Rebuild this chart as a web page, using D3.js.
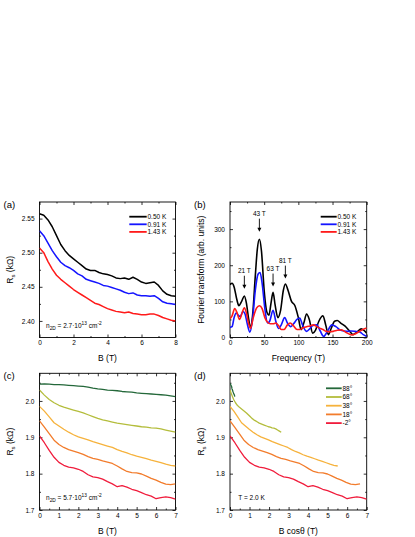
<!DOCTYPE html>
<html>
<head>
<meta charset="utf-8">
<script src="https://cdn.jsdelivr.net/npm/d3@7"></script>
<style>
  body { margin: 0; background: #fff; }
  svg { display: block; font-family: "Liberation Sans", Arial, sans-serif; }
</style>
</head>
<body>
<svg id="fig" width="415" height="537"></svg>
<script>
// ---- panel (a): Rs vs B at three temperatures ----
const tempLabels = ['0.50 K', '0.91 K', '1.43 K'];
const tempColors = ['#000000', '#1414ff', '#ff1a1a'];
const bA = d3.range(0, 8.001, 0.25); // tick grid of the traces, 0.25 T
const rs050 = [2.557, 2.555, 2.548, 2.538, 2.525, 2.512, 2.503, 2.496, 2.491, 2.486, 2.481, 2.476, 2.474, 2.474, 2.471, 2.469, 2.468,
  2.466, 2.463, 2.462, 2.463, 2.461, 2.464, 2.461, 2.457, 2.455, 2.456, 2.457, 2.452, 2.444, 2.439, 2.437, 2.436];
const rs091 = [2.532, 2.525, 2.514, 2.503, 2.494, 2.486, 2.481, 2.478, 2.474, 2.469, 2.466, 2.461, 2.459, 2.457, 2.455, 2.452, 2.451,
  2.449, 2.447, 2.445, 2.442, 2.440, 2.441, 2.438, 2.437, 2.437, 2.436, 2.437, 2.433, 2.428, 2.426, 2.425, 2.424];
const rs143 = [2.507, 2.500, 2.487, 2.476, 2.467, 2.461, 2.456, 2.451, 2.446, 2.442, 2.438, 2.434, 2.430, 2.426, 2.424, 2.421, 2.418,
  2.416, 2.414, 2.413, 2.412, 2.413, 2.411, 2.410, 2.409, 2.409, 2.410, 2.410, 2.408, 2.405, 2.403, 2.401, 2.400];

// ---- panel (b): Fourier transform ----
const freq050 = [0, 3, 6, 10, 13, 17, 21, 24, 27, 30, 33, 37, 40, 43, 46, 50, 54, 57, 60, 63, 66, 70, 74, 78, 81, 85, 90, 95, 100, 104,
  108, 112, 116, 121, 125, 130, 136, 140, 144, 148, 153, 157, 162, 168, 174, 180, 186, 192, 196, 200];
const ft050 = [146, 150, 140, 105, 88, 100, 115, 95, 55, 28, 60, 170, 245, 272, 240, 130, 70, 62, 95, 125, 90, 55, 75, 130, 148, 130,
  100, 88, 55, 22, 40, 65, 50, 12, 20, 45, 60, 35, 8, 25, 45, 47, 40, 32, 20, 8, 15, 24, 20, 12];
const freq091 = [0, 3, 6, 9, 12, 15, 19, 22, 25, 29, 33, 37, 41, 44, 47, 51, 55, 58, 63, 67, 71, 75, 80, 84, 89, 93, 98, 102, 106, 112,
  117, 121, 127, 132, 137, 142, 149, 155, 162, 171, 177, 183, 190, 195, 200];
const ft091 = [28, 30, 55, 68, 62, 58, 72, 65, 40, 15, 50, 130, 175, 180, 150, 80, 40, 45, 75, 45, 25, 35, 55, 40, 30, 38, 50, 54, 35,
  17, 25, 33, 35, 18, 3, 15, 35, 30, 20, 17, 18, 17, 15, 8, 3];
const freq143 = [0, 3, 7, 10, 14, 18, 21, 24, 27, 30, 34, 39, 43, 47, 51, 55, 59, 63, 67, 71, 75, 79, 84, 88, 93, 98, 102, 107, 112,
  117, 122, 127, 131, 136, 141, 146, 151, 157, 163, 170, 178, 185, 193, 200];
const ft143 = [52, 60, 80, 70, 50, 70, 82, 68, 40, 25, 55, 82, 88, 80, 55, 42, 38, 38, 40, 33, 22, 22, 35, 40, 32, 22, 22, 27, 30,
  32, 35, 30, 26, 22, 17, 16, 17, 20, 21, 14, 7, 12, 21, 26];
const peakFreqs = [21, 43, 63, 81];
const peakTips = [135, 293, 141, 163];

// ---- panels (c), (d): Rs vs B at several tilt angles, T = 2.0 K ----
const angles = [88, 68, 38, 18, -2];
const angleColors = ['#24683a', '#b4bd3c', '#f6b23c', '#f27c2c', '#f01c3c'];
const bC = d3.range(0, 7.001, 0.25);
const rs88 = [2.046, 2.047, 2.046, 2.045, 2.045, 2.044, 2.043, 2.042, 2.041, 2.040, 2.038, 2.035, 2.033, 2.032, 2.030, 2.029, 2.028,
  2.026, 2.025, 2.024, 2.022, 2.021, 2.020, 2.019, 2.018, 2.017, 2.016, 2.014, 2.012];
const rs68 = [2.030, 2.016, 2.004, 1.995, 1.988, 1.983, 1.979, 1.975, 1.971, 1.967, 1.962, 1.957, 1.952, 1.948, 1.945, 1.942, 1.939,
  1.937, 1.935, 1.933, 1.931, 1.929, 1.928, 1.926, 1.925, 1.923, 1.920, 1.917, 1.914];
const rs38 = [1.985, 1.972, 1.956, 1.940, 1.931, 1.922, 1.914, 1.907, 1.901, 1.897, 1.893, 1.888, 1.884, 1.880, 1.876, 1.872, 1.866,
  1.861, 1.857, 1.852, 1.848, 1.845, 1.841, 1.837, 1.834, 1.830, 1.826, 1.823, 1.821];
const rs18 = [1.945, 1.928, 1.910, 1.892, 1.880, 1.872, 1.866, 1.862, 1.858, 1.853, 1.847, 1.842, 1.839, 1.835, 1.832, 1.828, 1.821,
  1.813, 1.806, 1.803, 1.802, 1.799, 1.793, 1.787, 1.782, 1.776, 1.771, 1.770, 1.772];
const rsm2 = [1.904, 1.885, 1.864, 1.845, 1.831, 1.823, 1.818, 1.816, 1.812, 1.806, 1.797, 1.791, 1.789, 1.785, 1.778, 1.772, 1.764,
  1.767, 1.763, 1.757, 1.753, 1.748, 1.742, 1.738, 1.731, 1.734, 1.736, 1.734, 1.730];

const svg = d3.select('#fig');
const FONT = '"Liberation Sans", Arial, sans-serif';

function panel(o) {
  const g = svg.append('g');
  const x = d3.scaleLinear(o.xDomain, [o.left, o.right]);
  const y = d3.scaleLinear(o.yDomain, [o.bottom, o.top]);

  const ax = (axis, pos, horiz) => g.append('g')
    .attr('transform', horiz ? `translate(0,${pos})` : `translate(${pos},0)`)
    .call(axis);

  ax(d3.axisBottom(x).tickValues(o.xMajor).tickSize(-3).tickPadding(3).tickFormat(o.xFmt), o.bottom, true);
  ax(d3.axisBottom(x).tickValues(o.xMinor).tickSize(-1.5).tickFormat(''), o.bottom, true);
  ax(d3.axisTop(x).tickValues(o.xMajor).tickSize(-3).tickFormat(''), o.top, true);
  ax(d3.axisTop(x).tickValues(o.xMinor).tickSize(-1.5).tickFormat(''), o.top, true);
  ax(d3.axisLeft(y).tickValues(o.yMajor).tickSize(-3).tickPadding(5).tickFormat(o.yFmt), o.left, false);
  ax(d3.axisLeft(y).tickValues(o.yMinor).tickSize(-1.5).tickFormat(''), o.left, false);
  ax(d3.axisRight(y).tickValues(o.yMajor).tickSize(-3).tickFormat(''), o.right, false);
  ax(d3.axisRight(y).tickValues(o.yMinor).tickSize(-1.5).tickFormat(''), o.right, false);

  g.selectAll('.domain').remove();
  g.selectAll('.tick line').attr('stroke', '#000').attr('stroke-width', 0.8);
  g.selectAll('.tick text').attr('font-size', 6.5).attr('font-family', FONT).attr('fill', '#000');

  g.append('rect')
    .attr('x', o.left).attr('y', o.top)
    .attr('width', o.right - o.left).attr('height', o.bottom - o.top)
    .attr('fill', 'none').attr('stroke', '#000').attr('stroke-width', 0.9);

  // panel letter
  g.append('text').attr('x', o.left - 36).attr('y', o.top + 5.5)
    .attr('font-size', 9.5).text(o.tag);

  // x title
  g.append('text').attr('x', (o.left + o.right) / 2).attr('y', o.bottom + 23.5)
    .attr('text-anchor', 'middle').attr('font-size', 8.5).text(o.xTitle);

  // y title (rotated)
  const yt = g.append('text')
    .attr('transform', `translate(${o.left - 26.5},${(o.top + o.bottom) / 2}) rotate(-90)`)
    .attr('text-anchor', 'middle').attr('font-size', 8.5);
  o.yTitle(yt);

  const clip = 'clip-' + o.tag.replace(/[()]/g, '');
  svg.append('clipPath').attr('id', clip).append('rect')
    .attr('x', o.left).attr('y', o.top)
    .attr('width', o.right - o.left).attr('height', o.bottom - o.top);
  const plot = g.append('g').attr('clip-path', `url(#${clip})`);
  return { g, x, y, plot };
}

function rsTitle(t) {
  t.append('tspan').text('R');
  t.append('tspan').attr('font-size', 6).attr('dy', 2).text('s');
  t.append('tspan').attr('dy', -2).text(' (k\u03a9)');
}

function legend(g, x0, y0, dy, labels, colors, len) {
  labels.forEach((lab, i) => {
    const yy = y0 + i * dy;
    g.append('line').attr('x1', x0).attr('x2', x0 + len).attr('y1', yy).attr('y2', yy)
      .attr('stroke', colors[i]).attr('stroke-width', 1.8);
    g.append('text').attr('x', x0 + len + 0.8).attr('y', yy).attr('dy', '0.35em')
      .attr('font-size', 6.5).text(lab);
  });
}

function densityNote(g, x0, y0, value) {
  const t = g.append('text').attr('x', x0).attr('y', y0).attr('font-size', 6.5);
  t.append('tspan').text('n');
  t.append('tspan').attr('font-size', 4.8).attr('dy', 1.8).text('2D');
  t.append('tspan').attr('dy', -1.8).text(' = ' + value + '\u00b710');
  t.append('tspan').attr('font-size', 4.8).attr('dy', -2.6).text('13');
  t.append('tspan').attr('dy', 2.6).text(' cm');
  t.append('tspan').attr('font-size', 4.8).attr('dy', -2.6).text('-2');
}

// ---------- (a) ----------
const pa = panel({
  tag: '(a)', left: 39.5, right: 175.5, top: 202, bottom: 337.5,
  xDomain: [0, 8], yDomain: [2.3757, 2.5743],
  xMajor: [0, 2, 4, 6, 8], xMinor: [1, 3, 5, 7], xFmt: d3.format('d'),
  yMajor: [2.40, 2.45, 2.50, 2.55], yMinor: [2.425, 2.475, 2.525], yFmt: d3.format('.2f'),
  xTitle: 'B (T)', yTitle: rsTitle
});
const lineA = d3.line().x((d, i) => pa.x(bA[i])).y(d => pa.y(d));
[rs050, rs091, rs143].forEach((s, i) => {
  pa.plot.append('path').attr('d', lineA(s)).attr('fill', 'none')
    .attr('stroke', tempColors[i]).attr('stroke-width', 1.5).attr('stroke-linejoin', 'round');
});
legend(pa.g, 129.3, 216.7, 7.6, tempLabels, tempColors, 17.4);
densityNote(pa.g, 46, 328, '2.7');

// ---------- (b) ----------
const pb = panel({
  tag: '(b)', left: 230, right: 366.7, top: 202, bottom: 337.5,
  xDomain: [0, 200], yDomain: [0, 375],
  xMajor: [0, 50, 100, 150, 200], xMinor: [25, 75, 125, 175], xFmt: d3.format('d'),
  yMajor: [0, 100, 200, 300], yMinor: [50, 150, 250, 350], yFmt: d3.format('d'),
  xTitle: 'Frequency (T)', yTitle: t => t.text('Fourier transform (arb. units)')
});
const lineB = d3.line().curve(d3.curveMonotoneX);
[[freq050, ft050], [freq091, ft091], [freq143, ft143]].forEach(([f, v], i) => {
  lineB.x((d, k) => pb.x(f[k])).y(d => pb.y(d));
  pb.plot.append('path').attr('d', lineB(v)).attr('fill', 'none')
    .attr('stroke', tempColors[i]).attr('stroke-width', 1.6).attr('stroke-linejoin', 'round');
});
legend(pb.g, 320.7, 216.7, 7.6, tempLabels, tempColors, 16);
peakFreqs.forEach((f, i) => {
  const px = pb.x(f), tip = pb.y(peakTips[i]);
  pb.g.append('line').attr('x1', px).attr('x2', px).attr('y1', tip - 13).attr('y2', tip - 3)
    .attr('stroke', '#000').attr('stroke-width', 0.9);
  pb.g.append('path').attr('d', `M${px - 2},${tip - 4}L${px + 2},${tip - 4}L${px},${tip}Z`).attr('fill', '#000');
  pb.g.append('text').attr('x', px).attr('y', tip - 16).attr('text-anchor', 'middle')
    .attr('font-size', 6.5).text(f + ' T');
});

// ---------- (c) ----------
const cOpts = {
  top: 373.3, bottom: 510,
  xDomain: [0, 7], yDomain: [1.7, 2.076],
  xMajor: d3.range(0, 8), xMinor: d3.range(0.5, 7, 1), xFmt: d3.format('d'),
  yMajor: [1.7, 1.8, 1.9, 2.0], yMinor: [1.75, 1.85, 1.95, 2.05], yFmt: d3.format('.1f'),
  yTitle: rsTitle
};
const angleSeries = [rs88, rs68, rs38, rs18, rsm2];
const pc = panel({ ...cOpts, tag: '(c)', left: 39.5, right: 175.5, xTitle: 'B (T)' });
angleSeries.forEach((s, i) => {
  const ln = d3.line().x((d, k) => pc.x(bC[k])).y(d => pc.y(d));
  pc.plot.append('path').attr('d', ln(s)).attr('fill', 'none')
    .attr('stroke', angleColors[i]).attr('stroke-width', 1.3).attr('stroke-linejoin', 'round');
});
densityNote(pc.g, 46, 500, '5.7');

// ---------- (d) ----------
const pd = panel({ ...cOpts, tag: '(d)', left: 230, right: 366.7, xTitle: 'B cos\u03b8 (T)' });
angleSeries.forEach((s, i) => {
  const c = Math.cos(angles[i] * Math.PI / 180);
  const ln = d3.line().x((d, k) => pd.x(bC[k] * c)).y(d => pd.y(d));
  pd.plot.append('path').attr('d', ln(s)).attr('fill', 'none')
    .attr('stroke', angleColors[i]).attr('stroke-width', 1.3).attr('stroke-linejoin', 'round');
});
legend(pd.g, 326, 388.3, 8.7, angles.map(a => a + '\u00b0'), angleColors, 15.7);
pd.g.append('text').attr('x', 238.3).attr('y', 500).attr('font-size', 6.5).text('T = 2.0 K');
</script>
</body>
</html>
